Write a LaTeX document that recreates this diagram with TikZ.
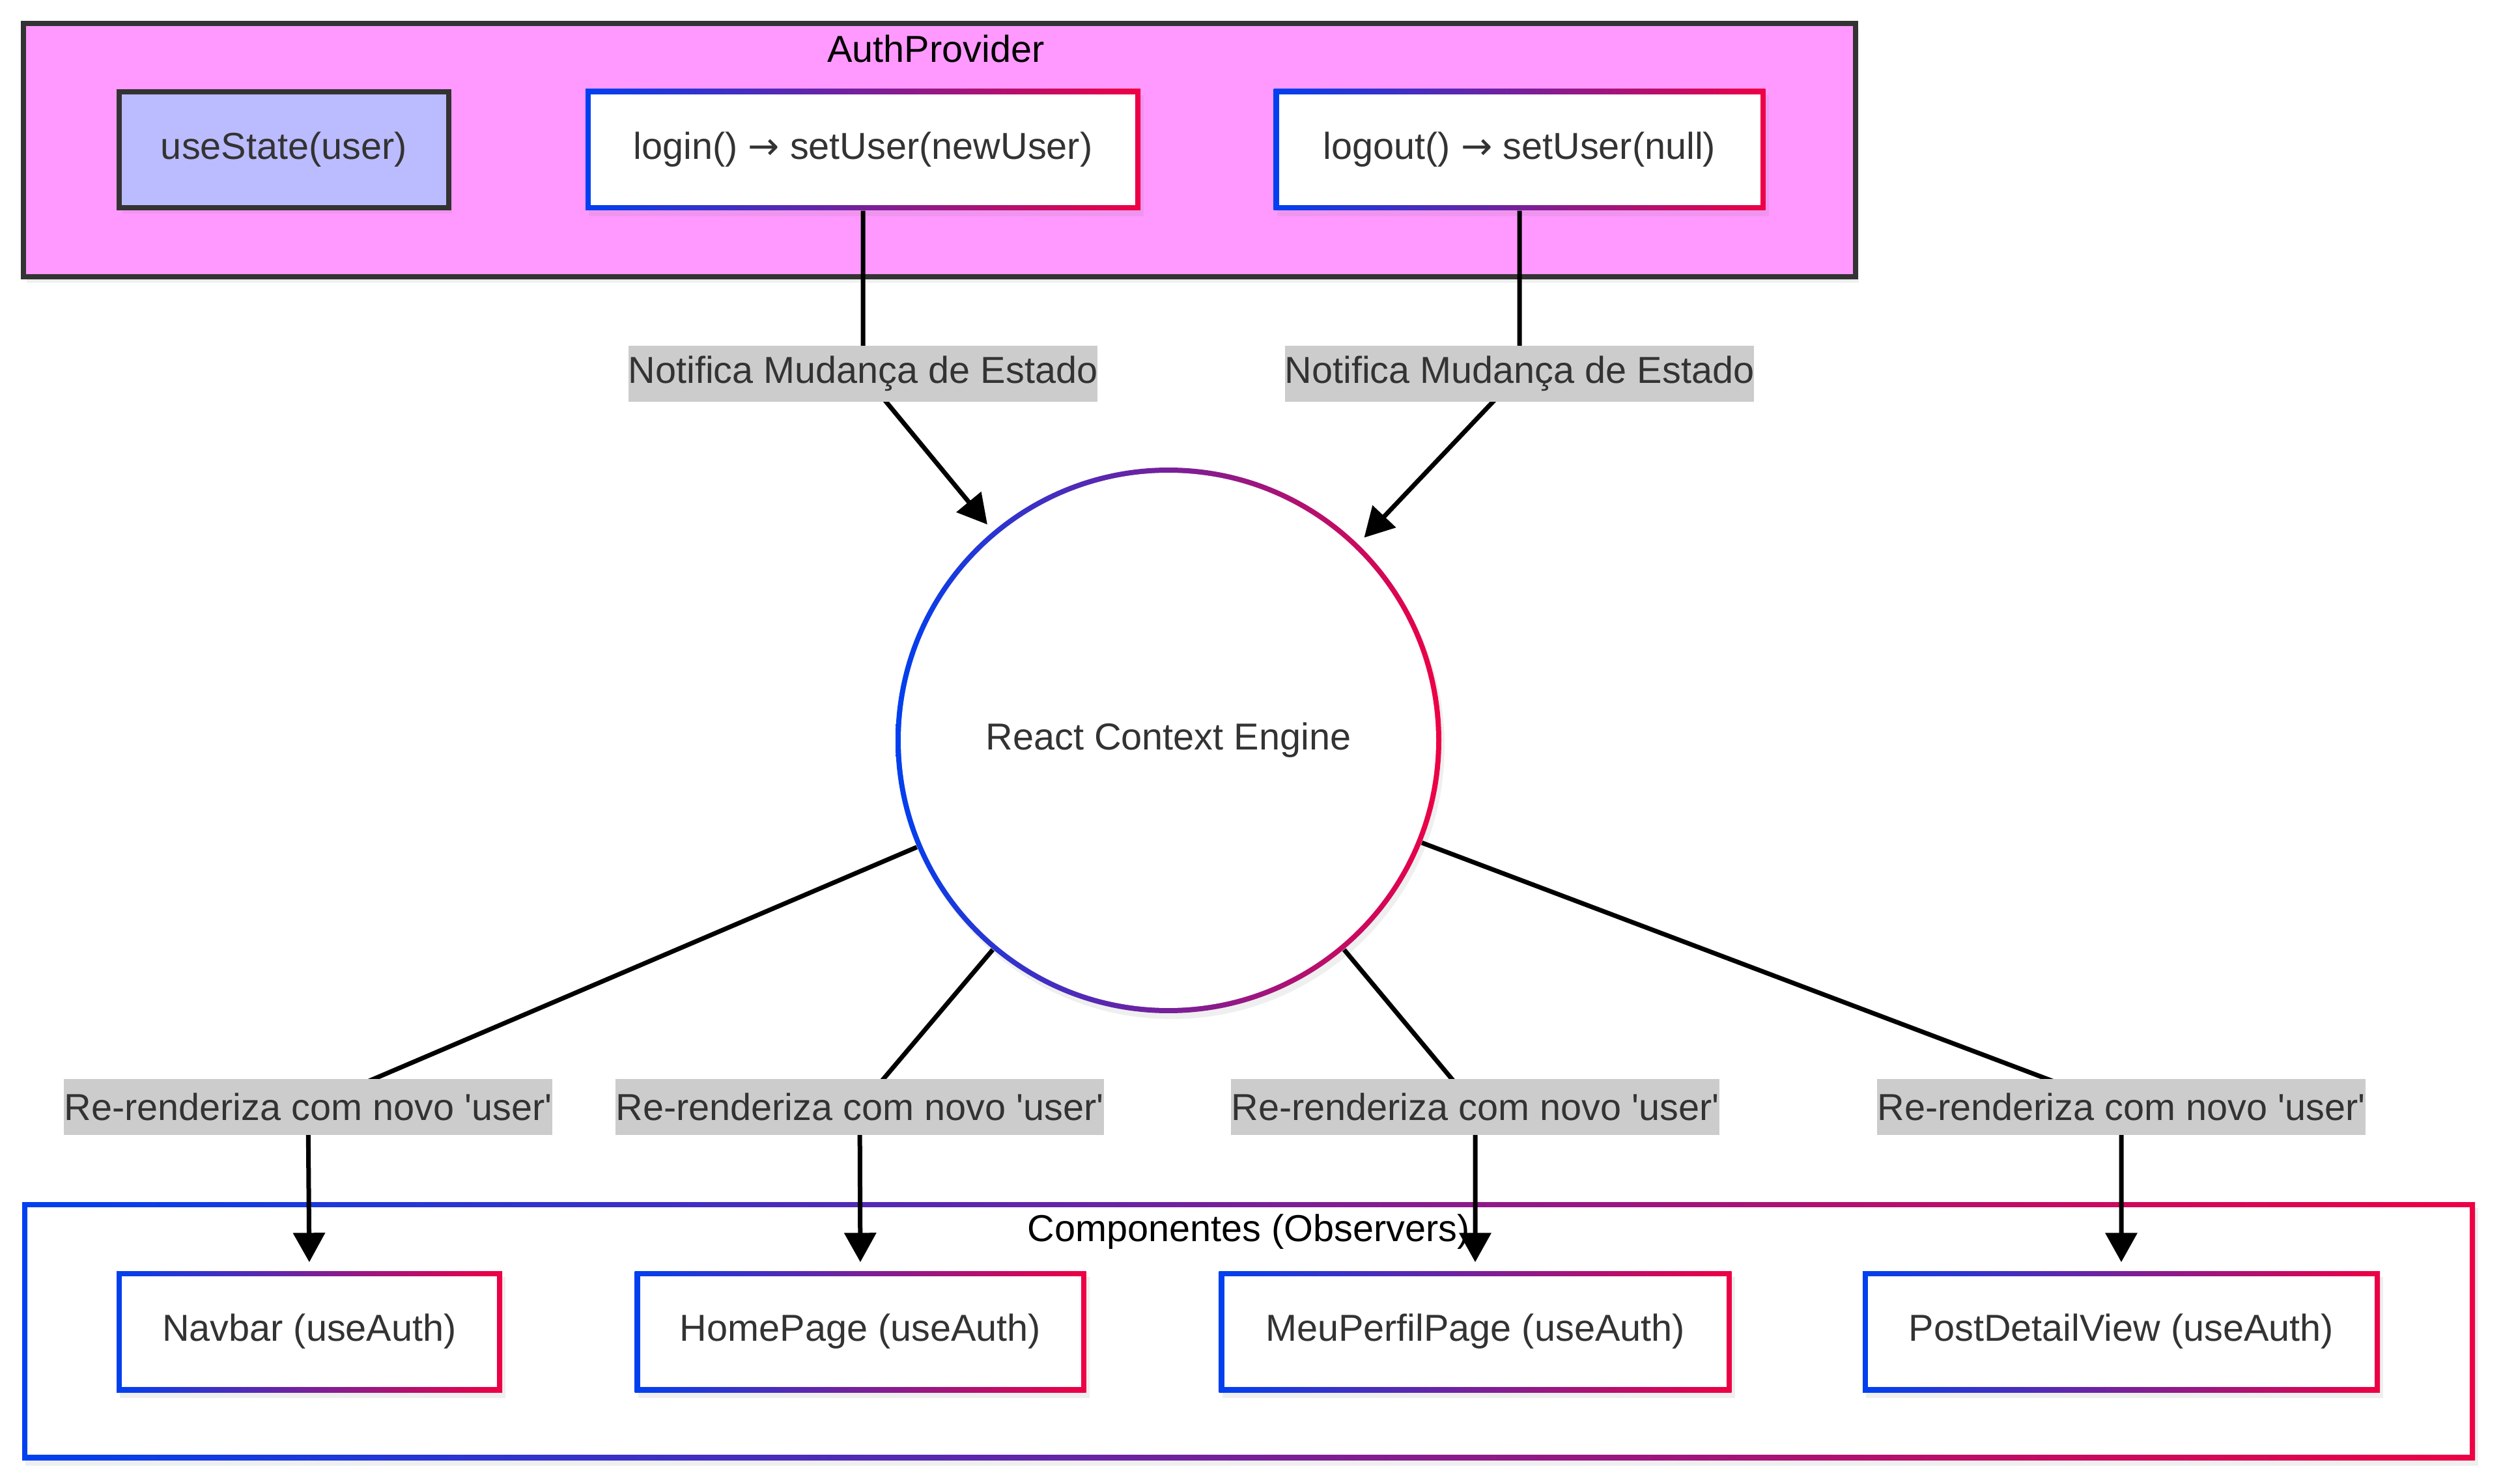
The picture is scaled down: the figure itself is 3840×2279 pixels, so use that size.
\documentclass[tikz,border=0pt]{standalone}
\usepackage{fontspec}
\setmainfont{Liberation Sans}
\newfontfamily\arrowfont{DejaVu Sans}
\usetikzlibrary{arrows.meta,shadows}
\definecolor{gblue}{RGB}{0,64,240}
\definecolor{gred}{RGB}{238,0,68}
\definecolor{authfill}{RGB}{255,153,255}
\definecolor{statefill}{RGB}{187,187,255}
\definecolor{darkline}{RGB}{51,51,51}
\definecolor{txt}{RGB}{51,51,51}
\definecolor{lblfill}{RGB}{204,204,204}
\newcommand{\rarr}{{\arrowfont →}}
\newcommand{\sq}{\textquotesingle}
\tikzset{
  base/.style={font=\fontsize{16.4pt}{19pt}\selectfont, text=txt, inner sep=0pt},
  softshadow/.style={drop shadow={opacity=0.12, shadow xshift=0.5mm, shadow yshift=-0.9mm}},
  gradbox/.style={base, rectangle, minimum height=18.6mm, softshadow,
    left color=gblue, right color=gred,
    path picture={\fill[white] ([shift={(0.8mm,-0.8mm)}]path picture bounding box.north west)
      rectangle ([shift={(-0.8mm,0.8mm)}]path picture bounding box.south east);}},
  gradframe/.style={rectangle, inner sep=0pt, softshadow,
    left color=gblue, right color=gred,
    path picture={\fill[white] ([shift={(0.8mm,-0.8mm)}]path picture bounding box.north west)
      rectangle ([shift={(-0.8mm,0.8mm)}]path picture bounding box.south east);}},
  gradcircle/.style={base, circle, minimum size=83.8mm, softshadow,
    left color=gblue, right color=gred,
    path picture={\fill[white] (path picture bounding box.center) circle (41.1mm);}},
  authframe/.style={rectangle, inner sep=0pt, draw=darkline, line width=0.8mm, fill=authfill, softshadow},
  statebox/.style={base, rectangle, draw=darkline, line width=0.8mm, fill=statefill,
    minimum width=50.6mm, minimum height=17.8mm, softshadow},
  titletext/.style={base, text=black},
  lbl/.style={base, fill=lblfill, inner xsep=0pt, inner ysep=0pt, minimum height=8.6mm},
  edge/.style={line width=0.7mm, black, -{Triangle[length=4.5mm,width=4.8mm]}, shorten >=1.3mm},
}
\begin{document}
\begin{tikzpicture}[x=0.1mm, y=-0.1mm]
\useasboundingbox (0,0) rectangle (3840,2279);
\fill[white] (0,0) rectangle (3840,2279);

% AuthProvider group
\node[authframe, minimum width=281.3mm, minimum height=38.9mm] (auth) at (1442.5,230.5) {};
\node[titletext] (authtitle) at (1437,75) {AuthProvider};
\node[statebox] (state) at (436,230) {useState(user)};
\node[gradbox, minimum width=85.2mm] (login) at (1325,230) {login() \rarr{} setUser(newUser)};
\node[gradbox, minimum width=75.5mm] (logout) at (2333,230) {logout() \rarr{} setUser(null)};

% Context engine
\node[gradcircle] (ctx) at (1794,1137) {React Context Engine};

% Componentes group
\node[gradframe, minimum width=376.6mm, minimum height=39.6mm] (comp) at (1917,2044) {};
\node[titletext] (comptitle) at (1917,1892) {Componentes (Observers)};
\node[gradbox, minimum width=59.2mm] (navbar) at (475,2045) {Navbar (useAuth)};
\node[gradbox, minimum width=69.3mm] (home) at (1321,2045) {HomePage (useAuth)};
\node[gradbox, minimum width=78.7mm] (perfil) at (2265,2045) {MeuPerfilPage (useAuth)};
\node[gradbox, minimum width=79.4mm] (post) at (3257,2045) {PostDetailView (useAuth)};

% label positions
\coordinate (l1) at (1325,574);
\coordinate (l2) at (2333,574);
\coordinate (l3) at (473,1700);
\coordinate (l4) at (1320,1700);
\coordinate (l5) at (2265,1700);
\coordinate (l6) at (3257,1700);

% edges
\draw[edge] (login.south) -- (l1) -- (ctx.130);
\draw[edge] (logout.south) -- (l2) -- (ctx.46);
\draw[edge] (ctx.203) -- (l3) -- (navbar.north);
\draw[edge] (ctx.230) -- (l4) -- (home.north);
\draw[edge] (ctx.310) -- (l5) -- (perfil.north);
\draw[edge] (ctx.338) -- (l6) -- (post.north);

% edge labels
\node[lbl] (lab1) at (l1) {Notifica Mudança de Estado};
\node[lbl] (lab2) at (l2) {Notifica Mudança de Estado};
\node[lbl] (lab3) at (l3) {Re-renderiza com novo \sq{}user\sq};
\node[lbl] (lab4) at (l4) {Re-renderiza com novo \sq{}user\sq};
\node[lbl] (lab5) at (l5) {Re-renderiza com novo \sq{}user\sq};
\node[lbl] (lab6) at (l6) {Re-renderiza com novo \sq{}user\sq};
\end{tikzpicture}
\end{document}
